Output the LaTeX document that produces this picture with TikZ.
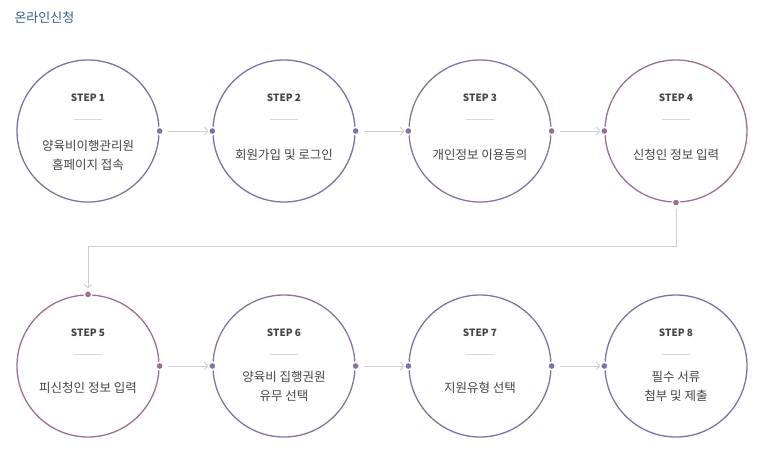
\documentclass[tikz,border=0pt]{standalone}
\usepackage{fontspec}
\setmainfont{Noto Sans CJK KR}
\usetikzlibrary{arrows.meta, positioning, calc}

\definecolor{titleblue}{HTML}{2F5E90}
\definecolor{stepblue}{HTML}{7A73A6}
\definecolor{stepmauve}{HTML}{9C6E97}
\definecolor{flowgray}{HTML}{CCCCD4}
\definecolor{textgray}{HTML}{444444}

\tikzset{
  stepring/.style={circle, draw=#1, line width=1.3pt, minimum size=142pt, inner sep=0pt},
  steplabel/.style={font=\fontsize{10}{12}\selectfont\bfseries, text=textgray},
  stepdesc/.style={font=\fontsize{12.5}{19}\selectfont, text=textgray, align=center},
  steprule/.style={draw=flowgray!80, line width=0.9pt},
  stepdot/.style={fill=#1, draw=white, line width=1.6pt},
  flow/.style={draw=flowgray, line width=0.9pt, -{Straight Barb[length=3.5pt, width=8pt]}}
}

\begin{document}
\begin{tikzpicture}[x=1pt, y=-1pt]

  \useasboundingbox (0,0) rectangle (768,461);

  \node[anchor=west, text=titleblue, font=\fontsize{13}{15}\selectfont] (title) at (11,18) {온라인신청};

  \node[stepring=stepblue] (s1) at (88,131) {};
  \node[stepring=stepblue] (s2) at (284,131) {};
  \node[stepring=stepblue!50!stepmauve] (s3) at (480,131) {};
  \node[stepring=stepmauve] (s4) at (676,131) {};
  \node[stepring=stepmauve] (s5) at (88,366) {};
  \node[stepring=stepblue!50!stepmauve] (s6) at (284,366) {};
  \node[stepring=stepblue] (s7) at (480,366) {};
  \node[stepring=stepblue] (s8) at (676,366) {};

  \node[steplabel] (l1) at ($(s1.center)+(0,-33)$) {STEP 1};
  \node[steplabel] (l2) at ($(s2.center)+(0,-33)$) {STEP 2};
  \node[steplabel] (l3) at ($(s3.center)+(0,-33)$) {STEP 3};
  \node[steplabel] (l4) at ($(s4.center)+(0,-33)$) {STEP 4};
  \node[steplabel] (l5) at ($(s5.center)+(0,-33)$) {STEP 5};
  \node[steplabel] (l6) at ($(s6.center)+(0,-33)$) {STEP 6};
  \node[steplabel] (l7) at ($(s7.center)+(0,-33)$) {STEP 7};
  \node[steplabel] (l8) at ($(s8.center)+(0,-33)$) {STEP 8};

  \draw[steprule] ($(s1.center)+(-14,-12)$) -- ($(s1.center)+(14,-12)$);
  \draw[steprule] ($(s2.center)+(-14,-12)$) -- ($(s2.center)+(14,-12)$);
  \draw[steprule] ($(s3.center)+(-14,-12)$) -- ($(s3.center)+(14,-12)$);
  \draw[steprule] ($(s4.center)+(-14,-12)$) -- ($(s4.center)+(14,-12)$);
  \draw[steprule] ($(s5.center)+(-14,-12)$) -- ($(s5.center)+(14,-12)$);
  \draw[steprule] ($(s6.center)+(-14,-12)$) -- ($(s6.center)+(14,-12)$);
  \draw[steprule] ($(s7.center)+(-14,-12)$) -- ($(s7.center)+(14,-12)$);
  \draw[steprule] ($(s8.center)+(-14,-12)$) -- ($(s8.center)+(14,-12)$);

  \node[stepdesc] (d1) at ($(s1.center)+(0,24)$) {양육비이행관리원\\홈페이지 접속};
  \node[stepdesc] (d2) at ($(s2.center)+(0,24)$) {회원가입 및 로그인};
  \node[stepdesc] (d3) at ($(s3.center)+(0,24)$) {개인정보 이용동의};
  \node[stepdesc] (d4) at ($(s4.center)+(0,24)$) {신청인 정보 입력};
  \node[stepdesc] (d5) at ($(s5.center)+(0,22)$) {피신청인 정보 입력};
  \node[stepdesc] (d6) at ($(s6.center)+(0,20)$) {양육비 집행권원\\유무 선택};
  \node[stepdesc] (d7) at ($(s7.center)+(0,22)$) {지원유형 선택};
  \node[stepdesc] (d8) at ($(s8.center)+(0,20)$) {필수 서류\\첨부 및 제출};

  \coordinate (turn) at (380,246);

  \draw[flow] ([xshift=8pt]s1.east) -- ([xshift=-4pt]s2.west);
  \draw[flow] ([xshift=8pt]s2.east) -- ([xshift=-4pt]s3.west);
  \draw[flow] ([xshift=8pt]s3.east) -- ([xshift=-4pt]s4.west);
  \draw[flow] ([yshift=-6pt]s4.south) -- (s4.south |- turn) -| ([yshift=6pt]s5.north);
  \draw[flow] ([xshift=8pt]s5.east) -- ([xshift=-4pt]s6.west);
  \draw[flow] ([xshift=8pt]s6.east) -- ([xshift=-4pt]s7.west);
  \draw[flow] ([xshift=8pt]s7.east) -- ([xshift=-4pt]s8.west);

  \path[stepdot=stepblue] (s1.east) circle (3.8pt);
  \path[stepdot=stepblue] (s2.west) circle (3.8pt);
  \path[stepdot=stepblue] (s2.east) circle (3.8pt);
  \path[stepdot=stepblue!50!stepmauve] (s3.west) circle (3.8pt);
  \path[stepdot=stepmauve] (s3.east) circle (3.8pt);
  \path[stepdot=stepmauve] (s4.west) circle (3.8pt);
  \path[stepdot=stepmauve] (s4.south) circle (3.8pt);
  \path[stepdot=stepmauve] (s5.north) circle (3.8pt);
  \path[stepdot=stepmauve] (s5.east) circle (3.8pt);
  \path[stepdot=stepblue!50!stepmauve] (s6.west) circle (3.8pt);
  \path[stepdot=stepblue!50!stepmauve] (s6.east) circle (3.8pt);
  \path[stepdot=stepblue] (s7.west) circle (3.8pt);
  \path[stepdot=stepblue] (s7.east) circle (3.8pt);
  \path[stepdot=stepblue] (s8.west) circle (3.8pt);

\end{tikzpicture}
\end{document}
